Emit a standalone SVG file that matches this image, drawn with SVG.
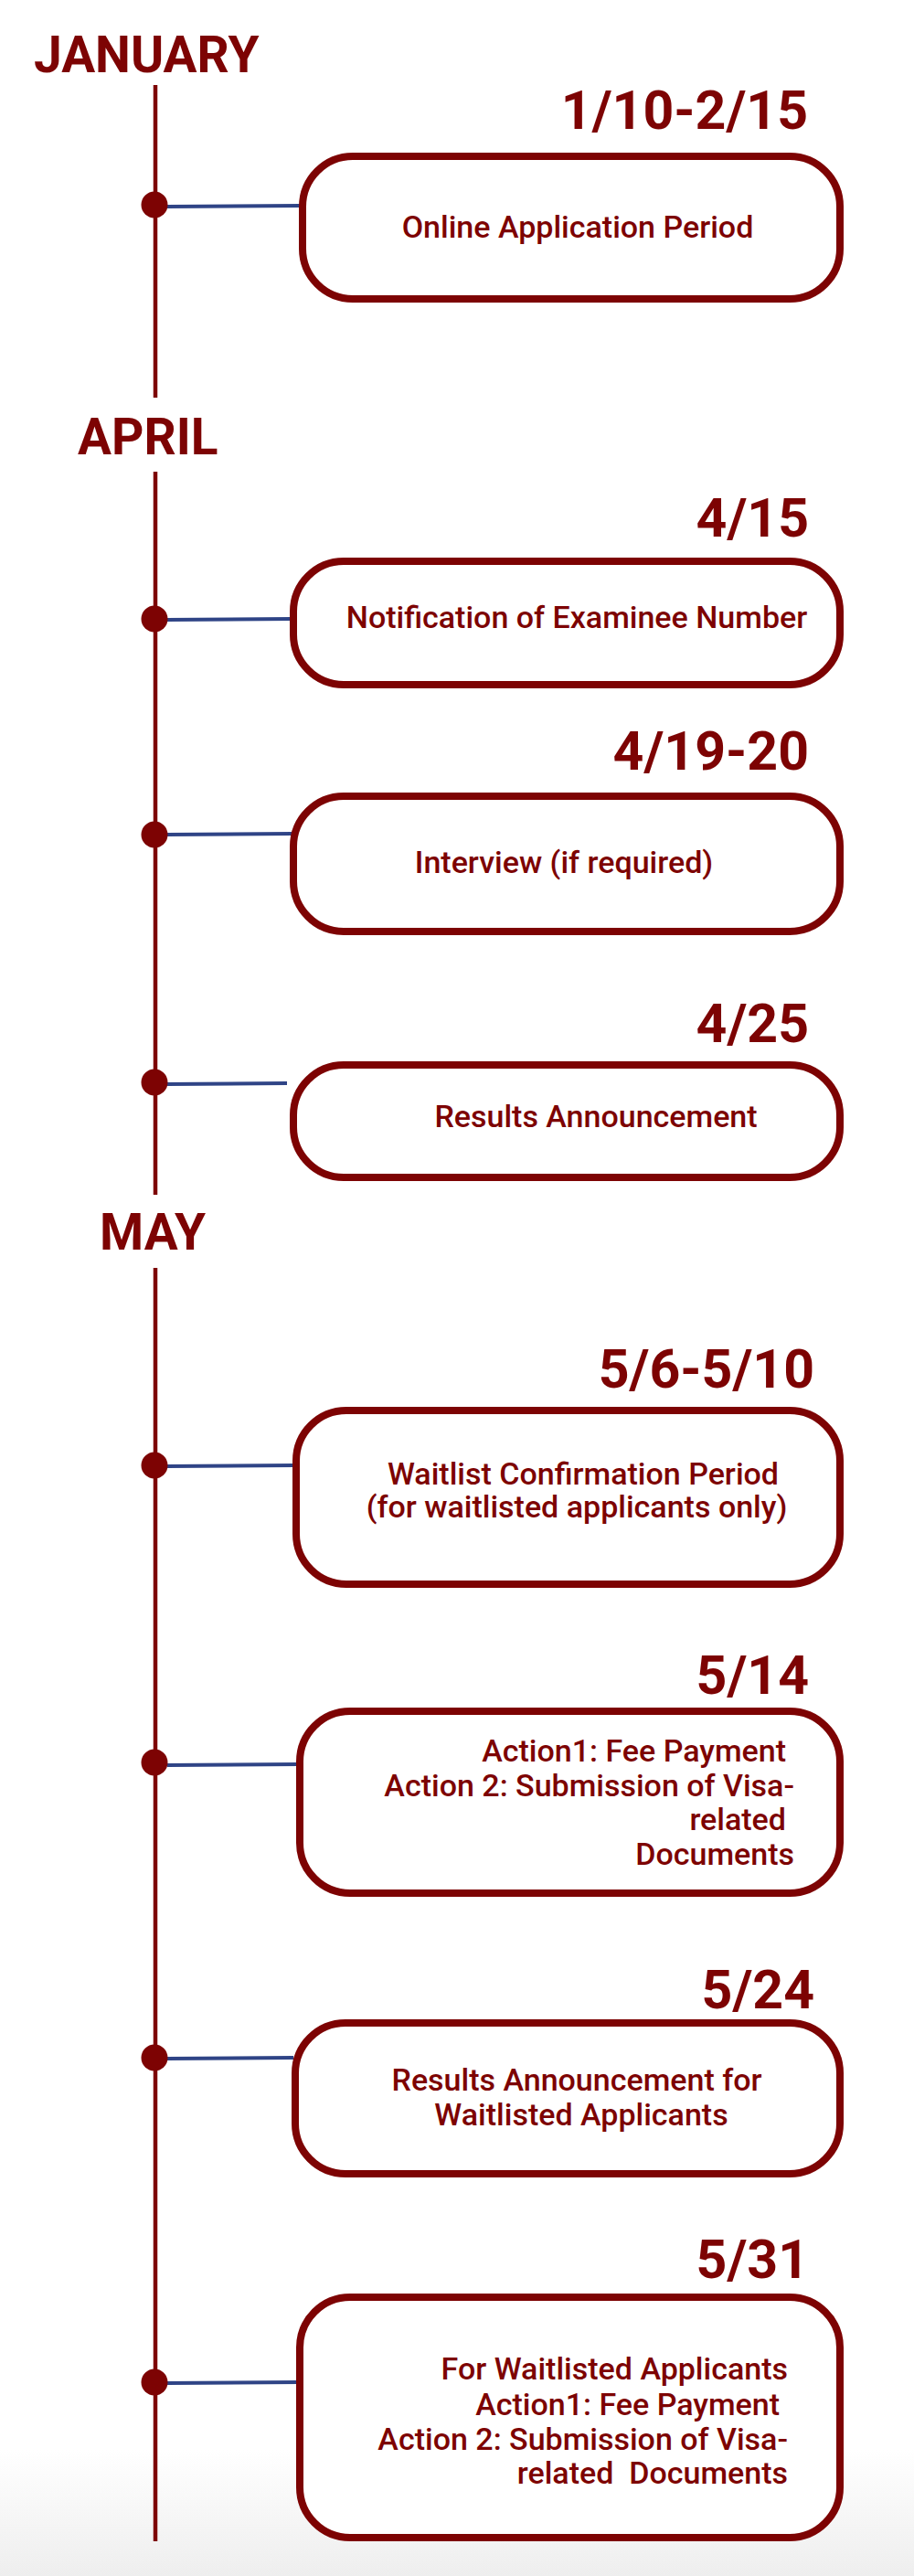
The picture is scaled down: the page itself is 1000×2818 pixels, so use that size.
<svg xmlns="http://www.w3.org/2000/svg" width="1000" height="2818" viewBox="0 0 1000 2818">
  <defs>
    <linearGradient id="floor" x1="0" y1="0" x2="0" y2="1">
      <stop offset="0" stop-color="#ffffff"/>
      <stop offset="1" stop-color="#eeeeee"/>
    </linearGradient>
  </defs>
  <style>
    .month { font-family: Roboto, "Liberation Sans", sans-serif; font-weight: 700; font-size: 55px; fill: #7d0303; }
    .date { font-family: Roboto, "Liberation Sans", sans-serif; font-weight: 700; font-size: 59px; fill: #7d0303; text-anchor: end; }
    .box { fill: #ffffff; stroke: #7d0303; stroke-width: 8; }
    .label { font-family: Roboto, "Liberation Sans", sans-serif; font-weight: 500; font-size: 34px; fill: #7d0303; }
    .mid { text-anchor: middle; }
    .end { text-anchor: end; }
    .spine { stroke: #7d0303; stroke-width: 4.5; fill: none; }
    .link { stroke: #2f4486; stroke-width: 4; fill: none; }
    .dot { fill: #7d0303; }
  </style>

  <!-- page background with a soft grey fade at the foot -->
  <rect x="0" y="0" width="1000" height="2818" fill="#ffffff"/>
  <rect x="0" y="2680" width="1000" height="138" fill="url(#floor)"/>

  <!-- month headings -->
  <g id="months">
    <text class="month" x="37" y="79">JANUARY</text>
    <text class="month" x="85" y="497">APRIL</text>
    <text class="month" x="109" y="1367">MAY</text>
  </g>

  <!-- timeline spine, event dots and links to the boxes -->
  <g id="connectors">
    <line class="spine" x1="170" y1="93" x2="170" y2="435"/>
    <line class="spine" x1="170" y1="516" x2="170" y2="1307"/>
    <line class="spine" x1="170" y1="1387" x2="170" y2="2780"/>

    <line class="link" x1="183" y1="226" x2="329" y2="225"/>
    <line class="link" x1="183" y1="678" x2="320" y2="677"/>
    <line class="link" x1="183" y1="913" x2="320" y2="912"/>
    <line class="link" x1="183" y1="1186" x2="314" y2="1185"/>
    <line class="link" x1="183" y1="1604" x2="322" y2="1603"/>
    <line class="link" x1="183" y1="1931" x2="326" y2="1930"/>
    <line class="link" x1="183" y1="2252" x2="321" y2="2251"/>
    <line class="link" x1="183" y1="2607" x2="326" y2="2606"/>

    <circle class="dot" cx="169" cy="224" r="14.5"/>
    <circle class="dot" cx="169" cy="677" r="14.5"/>
    <circle class="dot" cx="169" cy="913" r="14.5"/>
    <circle class="dot" cx="169" cy="1184" r="14.5"/>
    <circle class="dot" cx="169" cy="1603" r="14.5"/>
    <circle class="dot" cx="169" cy="1928" r="14.5"/>
    <circle class="dot" cx="169" cy="2251" r="14.5"/>
    <circle class="dot" cx="169" cy="2606" r="14.5"/>
  </g>

  <g id="event-online-application">
    <text class="date" x="884" y="141">1/10-2/15</text>
    <rect class="box" x="331" y="171" width="588" height="156" rx="55" ry="55"/>
    <text class="label mid" x="632" y="260">Online Application Period</text>
  </g>

  <g id="event-examinee-number">
    <text class="date" x="885" y="587">4/15</text>
    <rect class="box" x="321" y="614" width="598" height="135" rx="55" ry="55"/>
    <text class="label mid" x="631" y="687">Notification of Examinee Number</text>
  </g>

  <g id="event-interview">
    <text class="date" x="885" y="842">4/19-20</text>
    <rect class="box" x="321" y="871" width="598" height="148" rx="55" ry="55"/>
    <text class="label mid" x="617" y="955">Interview (if required)</text>
  </g>

  <g id="event-results">
    <text class="date" x="885" y="1140">4/25</text>
    <rect class="box" x="321" y="1165" width="598" height="123" rx="55" ry="55"/>
    <text class="label mid" x="652" y="1233">Results Announcement</text>
  </g>

  <g id="event-waitlist-confirmation">
    <text class="date" x="891" y="1518">5/6-5/10</text>
    <rect class="box" x="324" y="1543" width="595" height="190" rx="55" ry="55"/>
    <text class="label mid" x="638" y="1624">Waitlist Confirmation Period</text>
    <text class="label mid" x="631" y="1660">(for waitlisted applicants only)</text>
  </g>

  <g id="event-fee-payment">
    <text class="date" x="885" y="1853">5/14</text>
    <rect class="box" x="328" y="1872" width="591" height="199" rx="55" ry="55"/>
    <text class="label end" x="860" y="1927">Action1: Fee Payment</text>
    <text class="label end" x="869" y="1965">Action 2: Submission of Visa-</text>
    <text class="label end" x="860" y="2002">related</text>
    <text class="label end" x="869" y="2040">Documents</text>
  </g>

  <g id="event-waitlist-results">
    <text class="date" x="891" y="2197">5/24</text>
    <rect class="box" x="323" y="2213" width="596" height="165" rx="55" ry="55"/>
    <text class="label mid" x="631" y="2287">Results Announcement for</text>
    <text class="label mid" x="636" y="2325">Waitlisted Applicants</text>
  </g>

  <g id="event-waitlist-fee-payment">
    <text class="date" x="885" y="2492">5/31</text>
    <rect class="box" x="328" y="2513" width="591" height="263" rx="55" ry="55"/>
    <text class="label end" x="862" y="2603">For Waitlisted Applicants</text>
    <text class="label end" x="853" y="2642">Action1: Fee Payment</text>
    <text class="label end" x="862" y="2680">Action 2: Submission of Visa-</text>
    <text class="label end" x="862" y="2717" xml:space="preserve" style="white-space:pre">related  Documents</text>
  </g>
</svg>
